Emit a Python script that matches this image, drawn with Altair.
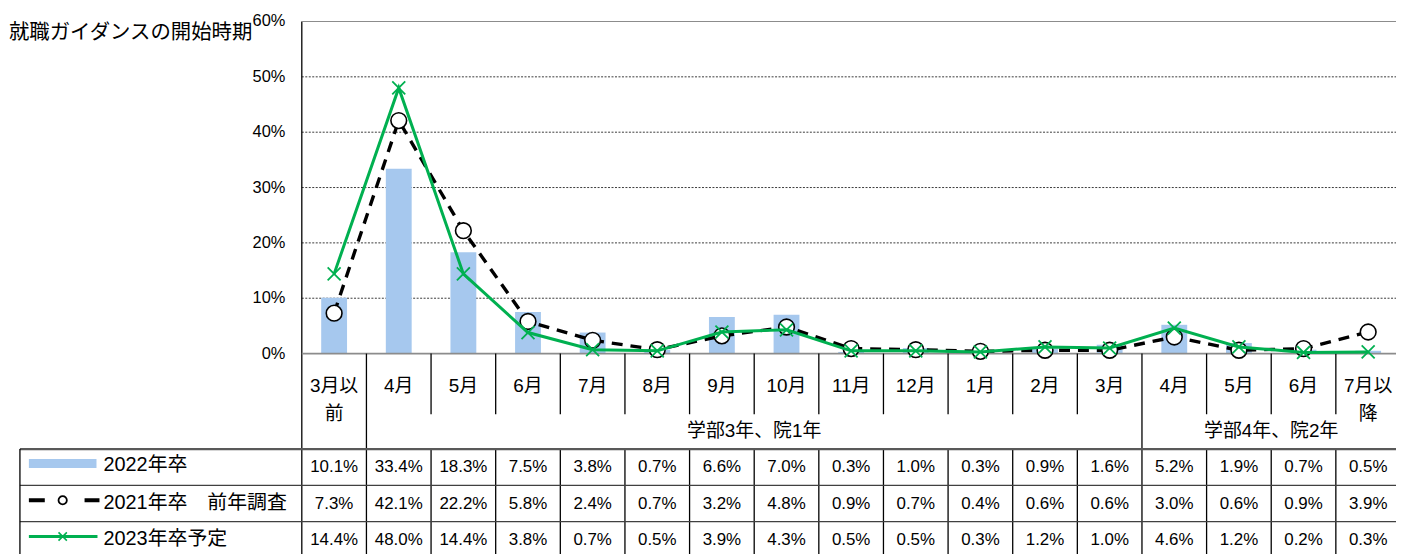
import altair as alt
import pandas as pd

# ---------------- data ----------------
title_text = "就職ガイダンスの開始時期"
category_labels = ["3月以\n前", "4月", "5月", "6月", "7月", "8月", "9月", "10月", "11月",
                   "12月", "1月", "2月", "3月", "4月", "5月", "6月", "7月以\n降"]
grad2022 = [10.1, 33.4, 18.3, 7.5, 3.8, 0.7, 6.6, 7.0, 0.3, 1.0, 0.3, 0.9, 1.6, 5.2, 1.9, 0.7, 0.5]
prev2021 = [7.3, 42.1, 22.2, 5.8, 2.4, 0.7, 3.2, 4.8, 0.9, 0.7, 0.4, 0.6, 0.6, 3.0, 0.6, 0.9, 3.9]
plan2023 = [14.4, 48.0, 14.4, 3.8, 0.7, 0.5, 3.9, 4.3, 0.5, 0.5, 0.3, 1.2, 1.0, 4.6, 1.2, 0.2, 0.3]
series_names = ["2022年卒", "2021年卒　前年調査", "2023年卒予定"]
y_ticks = [0, 10, 20, 30, 40, 50, 60]
group_names = ["学部3年、院1年", "学部4年、院2年"]
group_start = [1, 13]
group_end = [13, 17]

# ---------------- layout (page pixels) ----------------
W, H = 1396, 546
COL = 65.0
X0 = 303.5          # left border of plot / table columns
Y0 = 354.0          # 0% baseline
PPU = 334.0 / 60.0  # pixels per percent
XMIN = (8 - X0) / COL
XMAX = XMIN + W / COL
YMAX = (Y0 - 8) / PPU
YMIN = YMAX - H / PPU


def ux(p):
    return (p - X0) / COL


def uy(p):
    return (Y0 - p) / PPU


XS = alt.Scale(domain=[XMIN, XMAX], nice=False, zero=False)
YS = alt.Scale(domain=[YMIN, YMAX], nice=False, zero=False)


def X(f):
    return alt.X(f, type="quantitative", scale=XS, axis=None)


def Y(f):
    return alt.Y(f, type="quantitative", scale=YS, axis=None)


BLUE = "#A6C8EE"
GREEN = "#00B050"
LAT = "Liberation Sans, Arial, Noto Sans CJK JP, sans-serif"
CJK = "Noto Sans CJK JP, sans-serif"
XPATH = "M-1,-1L1,1M-1,1L1,-1"

n = len(category_labels)
df = pd.DataFrame({
    "i": range(n),
    "xc": [i + 0.5 for i in range(n)],
    "xl": [i + 0.3 for i in range(n)],
    "xr": [i + 0.7 for i in range(n)],
    "zero": [0.0] * n,
    "v22": grad2022,
    "v21": prev2021,
    "v23": plan2023,
    "label": category_labels,
})

# gridlines
grid_df = pd.DataFrame({"y": [t for t in y_ticks if 0 < t < 60], "x1": 0.0, "x2": XMAX + 1})
grid = alt.Chart(grid_df).mark_rule(color="#3a3a3a", strokeWidth=1, strokeDash=[2, 1.5]).encode(
    x=X("x1"), x2="x2", y=Y("y"))

# structural lines (plot border + table)
segs = []
segs.append((X0, 20, X0, 570, "#000000", 1.3))
segs.append((X0, 20, 1420, 20, "#8c8c8c", 1.2))
segs.append((X0, Y0, 1420, Y0, "#8c8c8c", 1.6))
for k in range(1, 17):
    xp = X0 + COL * k
    bottom = 450 if k in (1, 13) else 415
    segs.append((xp, Y0, xp, bottom, "#000000", 1.3))
    segs.append((xp, 450, xp, 570, "#000000", 1.3))
segs.append((20, 450, 1420, 450, "#595959", 2.2))
segs.append((20, 486.5, 1420, 486.5, "#404040", 1.3))
segs.append((20, 523, 1420, 523, "#404040", 1.3))
segs.append((20, 450, 20, 570, "#000000", 1.3))
seg_df = pd.DataFrame({
    "x1": [ux(s[0]) for s in segs], "y1": [uy(s[1]) for s in segs],
    "x2": [ux(s[2]) for s in segs], "y2": [uy(s[3]) for s in segs],
    "col": [s[4] for s in segs], "w": [s[5] for s in segs],
})
lines_tbl = alt.Chart(seg_df).mark_rule().encode(
    x=X("x1"), x2="x2", y=Y("y1"), y2="y2",
    color=alt.Color("col:N", scale=None),
    strokeWidth=alt.StrokeWidth("w:Q", scale=None))

base = alt.Chart(df)
bars = base.mark_rect(color=BLUE).encode(x=X("xl"), x2="xr", y=Y("v22"), y2="zero")
line21 = base.mark_line(color="black", strokeWidth=3.4, strokeDash=[11, 8]).encode(x=X("xc"), y=Y("v21"))
pts21 = base.mark_point(shape="circle", filled=True, fill="white", stroke="black",
                        strokeWidth=1.6, size=250, opacity=1).encode(x=X("xc"), y=Y("v21"))
line23 = base.mark_line(color=GREEN, strokeWidth=3).encode(x=X("xc"), y=Y("v23"))
pts23 = base.mark_point(shape=XPATH, filled=False, color=GREEN, strokeWidth=1.8,
                        size=170, opacity=1).encode(x=X("xc"), y=Y("v23"))

# y tick labels
yl_df = pd.DataFrame({"y": y_ticks, "t": [f"{t}%" for t in y_ticks], "x": ux(287)})
ylabels = alt.Chart(yl_df).mark_text(align="right", baseline="middle", font=LAT,
                                     fontSize=16.5, color="#000000").encode(
    x=X("x"), y=Y("y"), text="t:N")

# title
title_df = pd.DataFrame({"x": [ux(9)], "y": [uy(32)], "t": [title_text]})
title = alt.Chart(title_df).mark_text(align="left", baseline="middle", font=CJK,
                                      fontSize=20.5, color="#000000").encode(
    x=X("x"), y=Y("y"), text="t:N")

# category header labels
cat_df = df.assign(y=uy(386.5))
cats = alt.Chart(cat_df).mark_text(align="center", baseline="middle", font=LAT, fontSize=19,
                                   lineBreak="\n", lineHeight=28, color="#000000").encode(
    x=X("xc"), y=Y("y"), text="label:N")

# group labels
grp_df = pd.DataFrame({
    "x": [(a + b) / 2 for a, b in zip(group_start, group_end)],
    "y": uy(432), "t": group_names})
grps = alt.Chart(grp_df).mark_text(align="center", baseline="middle", font=LAT, fontSize=19,
                                   color="#000000").encode(x=X("x"), y=Y("y"), text="t:N")

# table values
row_y = [468, 505, 541.5]
rows = []
for r, vals in enumerate([grad2022, prev2021, plan2023]):
    for i, v in enumerate(vals):
        rows.append({"x": i + 0.5, "y": uy(row_y[r]), "t": f"{v:.1f}%"})
val_df = pd.DataFrame(rows)
vals = alt.Chart(val_df).mark_text(align="center", baseline="middle", font=LAT, fontSize=17,
                                   color="#000000").encode(x=X("x"), y=Y("y"), text="t:N")

# legend cells
leg_txt_df = pd.DataFrame({"x": ux(104), "y": [uy(v) for v in [466.5, 504, 541]], "t": series_names})
leg_txt = alt.Chart(leg_txt_df).mark_text(align="left", baseline="middle", font=LAT, fontSize=20,
                                          color="#000000").encode(x=X("x"), y=Y("y"), text="t:N")
sw_df = pd.DataFrame({"x1": [ux(29)], "x2": [ux(97)], "y1": [uy(460)], "y2": [uy(469)]})
swatch = alt.Chart(sw_df).mark_rect(color=BLUE).encode(x=X("x1"), x2="x2", y=Y("y1"), y2="y2")
ld_df = pd.DataFrame({"x1": [ux(29)], "x2": [ux(100)], "y": [uy(501.5)]})
leg_dash = alt.Chart(ld_df).mark_rule(color="black", strokeWidth=4, strokeDash=[16, 40]).encode(
    x=X("x1"), x2="x2", y=Y("y"))
lc_df = pd.DataFrame({"x": [ux(63)], "y": [uy(501.5)]})
leg_circ = alt.Chart(lc_df).mark_point(shape="circle", filled=True, fill="white", stroke="black",
                                       strokeWidth=1.8, size=70, opacity=1).encode(x=X("x"), y=Y("y"))
lg_df = pd.DataFrame({"x1": [ux(29)], "x2": [ux(98)], "y": [uy(538)]})
leg_green = alt.Chart(lg_df).mark_rule(color=GREEN, strokeWidth=3).encode(
    x=X("x1"), x2="x2", y=Y("y"))
lx_df = pd.DataFrame({"x": [ux(63)], "y": [uy(538)]})
leg_x = alt.Chart(lx_df).mark_point(shape=XPATH, filled=False, color=GREEN, strokeWidth=1.6,
                                    size=70, opacity=1).encode(x=X("x"), y=Y("y"))

chart = alt.layer(
    grid, bars, lines_tbl, line21, pts21, line23, pts23,
    ylabels, title, cats, grps, vals,
    swatch, leg_dash, leg_circ, leg_green, leg_x, leg_txt,
).properties(
    width=W, height=H, padding=0,
    autosize=alt.AutoSizeParams(type="none"),
).configure(background="white", view=alt.ViewConfig(stroke=None))

chart.save("out.html", embed_options={"renderer": "svg", "actions": False})
